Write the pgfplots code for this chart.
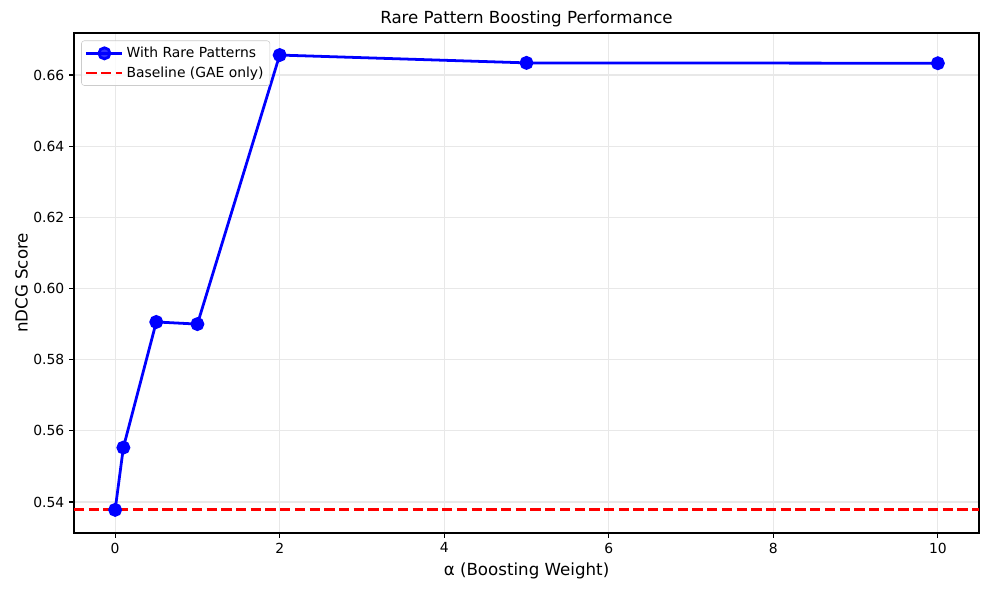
\documentclass[border=0pt]{standalone}
\usepackage{pgfplots}
\pgfplotsset{compat=1.18}
\usepackage{fontspec}
\setmainfont{DejaVu Sans}
\begin{document}
\begin{tikzpicture}[x=1pt,y=1pt]
\path (0,0) rectangle (712.08,424.8);
\begin{axis}[
    at={(53.28pt,41.04pt)}, anchor=south west,
    scale only axis, width=651.6pt, height=360pt,
    xmin=-0.5, xmax=10.5, ymin=0.5313, ymax=0.6718,
    xtick={0,2,...,10},
    ytick={0.54,0.56,...,0.665},
    yticklabel style={/pgf/number format/fixed, /pgf/number format/fixed zerofill, /pgf/number format/precision=2},
    /pgf/number format/assume math mode=true,
    ticklabel style={font=\fontsize{10}{12}\selectfont},
    tick align=outside, tick pos=left,
    major tick length=3.5pt,
    tick style={black, line width=0.8pt},
    axis line style={line width=0.8pt},
    grid=major, grid style={gray!18, line width=0.8pt},
    title={Rare Pattern Boosting Performance},
    title style={font=\fontsize{12}{14}\selectfont, yshift=-5pt},
    xlabel={α (Boosting Weight)},
    ylabel={nDCG Score},
    label style={font=\fontsize{12}{14}\selectfont},
    ylabel style={yshift=-3pt},
    legend style={font=\fontsize{10}{12}\selectfont, draw=gray!40, rounded corners=2pt, fill opacity=0.8, text opacity=1, inner sep=2.5pt, row sep=1pt, at={(0.008,0.985)}, anchor=north west},
    legend cell align=left,
    legend image code/.code={\draw[line width=2pt, mark repeat=2, mark phase=2, #1] plot coordinates {(0pt,0pt) (13pt,0pt) (26pt,0pt)};},
]
\addplot[blue, line width=2pt, mark=*, mark size=4pt, mark options={fill=blue}] coordinates {
(0,0.5378) (0.1,0.5553) (0.5,0.5906) (1,0.5900) (2,0.6656) (5,0.6634) (10,0.6633)};
\addlegendentry{With Rare Patterns}
\addplot[red, line width=2pt, dash pattern=on 7.4pt off 3.2pt] coordinates {(-0.5,0.5378) (10.5,0.5378)};
\addlegendentry{Baseline (GAE only)}
\end{axis}
\end{tikzpicture}
\end{document}
